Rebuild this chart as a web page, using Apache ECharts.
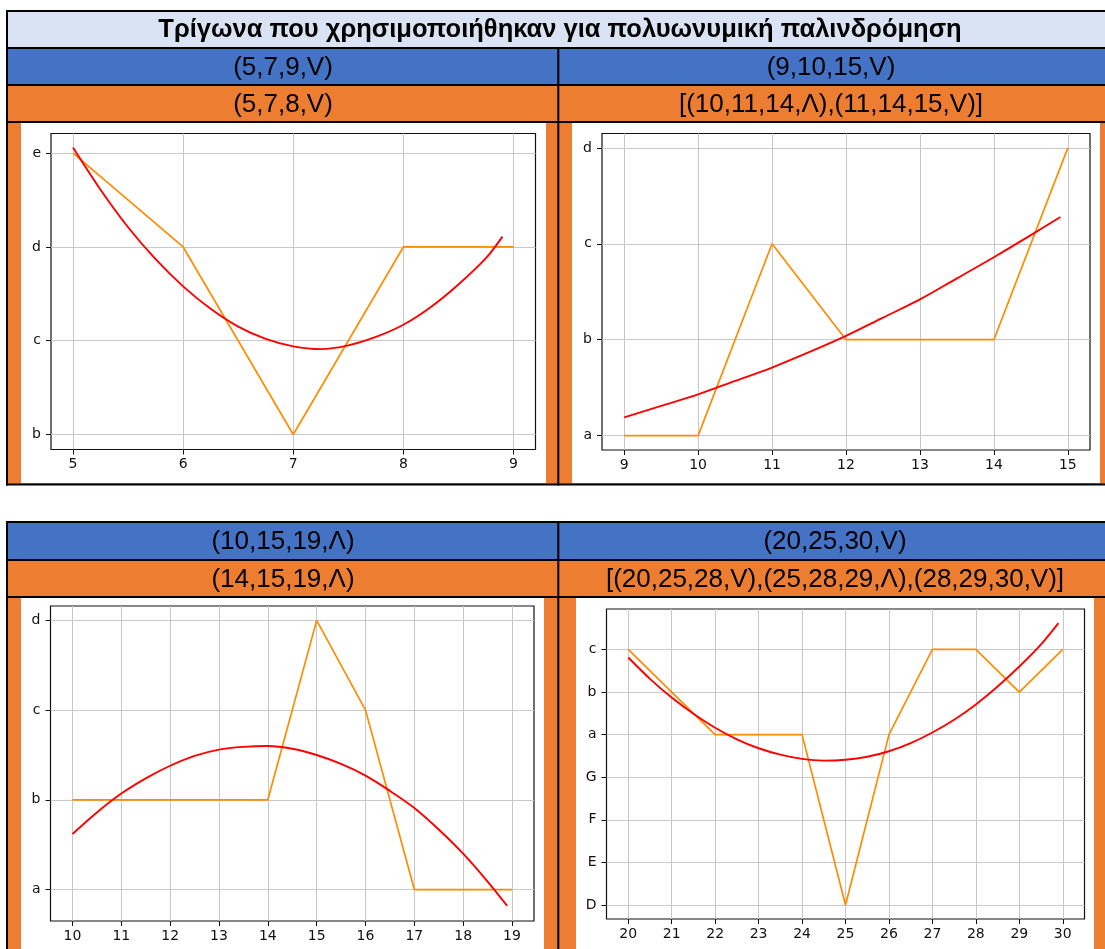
<!DOCTYPE html>
<html>
<head>
<meta charset="utf-8">
<script src="https://cdn.jsdelivr.net/npm/echarts@6/dist/echarts.min.js"></script>
<style>
  html, body { margin: 0; padding: 0; background: #ffffff; }
  #chart { width: 1105px; height: 949px; }
</style>
</head>
<body>
<div id="chart"></div>
<script>
// ---- header texts ----
const headerTitle = 'Τρίγωνα που χρησιμοποιήθηκαν για πολυωνυμική παλινδρόμηση';
const blueLabels = ['(5,7,9,V)', '(9,10,15,V)', '(10,15,19,Λ)', '(20,25,30,V)'];
const orangeLabels = ['(5,7,8,V)', '[(10,11,14,Λ),(11,14,15,V)]', '(14,15,19,Λ)', '[(20,25,28,V),(25,28,29,Λ),(28,29,30,V)]'];

// ---- panel 1 ----
const p1X = [5, 6, 7, 8, 9];
const p1Steps = [3, 2, 0, 2, 2];
const p1FitX = [5, 5.25, 5.5, 5.75, 6, 6.25, 6.5, 6.75, 7, 7.25, 7.5, 7.75, 8, 8.25, 8.5, 8.75, 8.9];
const p1Fit = [3.06, 2.61, 2.21, 1.87, 1.58, 1.34, 1.15, 1.02, 0.94, 0.91, 0.95, 1.04, 1.17, 1.36, 1.60, 1.88, 2.11];
const p1Levels = ['b', 'c', 'd', 'e'];

// ---- panel 2 ----
const p2X = [9, 10, 11, 12, 13, 14, 15];
const p2Steps = [0, 0, 2, 1, 1, 1, 3];
const p2FitX = [9, 9.5, 10, 10.5, 11, 11.5, 12, 12.5, 13, 13.5, 14, 14.5, 14.9];
const p2Fit = [0.19, 0.31, 0.43, 0.57, 0.71, 0.87, 1.04, 1.23, 1.42, 1.64, 1.86, 2.09, 2.28];
const p2Levels = ['a', 'b', 'c', 'd'];

// ---- panel 3 ----
const p3X = [10, 11, 12, 13, 14, 15, 16, 17, 18, 19];
const p3Steps = [1, 1, 1, 1, 1, 3, 2, 0, 0, 0];
const p3FitX = [10, 10.5, 11, 11.5, 12, 12.5, 13, 13.5, 14, 14.5, 15, 15.5, 16, 16.5, 17, 17.5, 18, 18.5, 18.9];
const p3Fit = [0.62, 0.86, 1.07, 1.24, 1.38, 1.49, 1.56, 1.59, 1.60, 1.57, 1.50, 1.40, 1.27, 1.10, 0.91, 0.67, 0.40, 0.09, -0.18];
const p3Levels = ['a', 'b', 'c', 'd'];

// ---- panel 4 ----
const p4X = [20, 21, 22, 23, 24, 25, 26, 27, 28, 29, 30];
const p4Steps = [6, 5, 4, 4, 4, 0, 4, 6, 6, 5, 6];
const p4FitX = [20, 20.5, 21, 21.5, 22, 22.5, 23, 23.5, 24, 24.5, 25, 25.5, 26, 26.5, 27, 27.5, 28, 28.5, 29, 29.5, 29.9];
const p4Fit = [5.81, 5.31, 4.87, 4.49, 4.16, 3.89, 3.68, 3.53, 3.43, 3.39, 3.41, 3.48, 3.61, 3.80, 4.05, 4.35, 4.71, 5.13, 5.60, 6.12, 6.62];
const p4Levels = ['D', 'E', 'F', 'G', 'a', 'b', 'c'];

// ---- colours ----
const LIGHT = '#dae3f3';
const BLUE = '#4472c4';
const ORANGE = '#ed7d31';
const STEP_COLOR = '#ff8c00';
const FIT_COLOR = '#ff0000';

const pairs = (xs, ys) => xs.map((x, i) => [x, ys[i]]);
const range = (a, b) => { const r = []; for (let v = a; v <= b; v++) r.push(v); return r; };

const panels = [
  { x: p1X, steps: p1Steps, fitX: p1FitX, fit: p1Fit, levels: p1Levels,
    xMin: 4.8, xMax: 9.2, yMin: -0.16, yMax: 3.21,
    grid: { left: 51, top: 133.5, width: 484.5, height: 316 } },
  { x: p2X, steps: p2Steps, fitX: p2FitX, fit: p2Fit, levels: p2Levels,
    xMin: 8.7, xMax: 15.3, yMin: -0.15, yMax: 3.15,
    grid: { left: 602, top: 133.5, width: 488, height: 316.5 } },
  { x: p3X, steps: p3Steps, fitX: p3FitX, fit: p3Fit, levels: p3Levels,
    xMin: 9.55, xMax: 19.45, yMin: -0.35, yMax: 3.16,
    grid: { left: 50.5, top: 606, width: 483.5, height: 315 } },
  { x: p4X, steps: p4Steps, fitX: p4FitX, fit: p4Fit, levels: p4Levels,
    xMin: 19.5, xMax: 30.5, yMin: -0.33, yMax: 6.95,
    grid: { left: 606.5, top: 609, width: 478, height: 310 } }
];

const tickFont = { fontFamily: 'DejaVu Sans', fontSize: 14, color: '#111' };

const grids = [], xAxes = [], yAxes = [], series = [];
panels.forEach((p, i) => {
  grids.push(Object.assign({ show: true, borderColor: '#111', borderWidth: 1.2,
    backgroundColor: 'transparent', containLabel: false }, p.grid));
  const xTicks = range(p.x[0], p.x[p.x.length - 1]);
  const yTicks = range(0, p.levels.length - 1);
  xAxes.push({
    type: 'value', gridIndex: i, min: p.xMin, max: p.xMax, position: 'bottom',
    axisLine: { show: false, onZero: false },
    axisTick: { show: true, inside: false, length: 5, customValues: xTicks, lineStyle: { color: '#111', width: 1 } },
    axisLabel: Object.assign({ customValues: xTicks, margin: 8 }, tickFont),
    splitLine: { show: true, lineStyle: { color: '#c8c8c8', width: 1 } }
  });
  yAxes.push({
    type: 'value', gridIndex: i, min: p.yMin, max: p.yMax, position: 'left',
    axisLine: { show: false, onZero: false },
    axisTick: { show: true, inside: false, length: 5, customValues: yTicks, lineStyle: { color: '#111', width: 1 } },
    axisLabel: Object.assign({ customValues: yTicks, margin: 10,
      formatter: v => p.levels[Math.round(v)] }, tickFont),
    splitLine: { show: true, lineStyle: { color: '#c8c8c8', width: 1 } }
  });
  series.push({
    type: 'line', xAxisIndex: i, yAxisIndex: i, data: pairs(p.x, p.steps),
    showSymbol: false, silent: true, lineStyle: { color: STEP_COLOR, width: 1.7 }, z: 3
  });
  series.push({
    type: 'line', xAxisIndex: i, yAxisIndex: i, data: pairs(p.fitX, p.fit),
    smooth: 0.3, showSymbol: false, silent: true, lineStyle: { color: FIT_COLOR, width: 1.9 }, z: 4
  });
});

// ---- table frame ----
const rect = (x, y, w, h, fill) => ({ type: 'rect', z: -2, silent: true,
  shape: { x, y, width: w, height: h }, style: { fill } });
const hline = (x1, x2, y) => ({ type: 'line', z: -1, silent: true,
  shape: { x1, y1: y, x2, y2: y }, style: { stroke: '#000', lineWidth: 2 } });
const vline = (x, y1, y2) => ({ type: 'line', z: -1, silent: true,
  shape: { x1: x, y1, x2: x, y2 }, style: { stroke: '#000', lineWidth: 2 } });
const label = (text, x, y, bold) => ({ type: 'text', z: 0, silent: true,
  style: { text, x, y, align: 'center', verticalAlign: 'middle', fill: '#000',
    font: (bold ? 'bold 25.5px' : '26px') + ' "Liberation Sans", Arial, sans-serif' } });

const graphics = [
  // upper table
  rect(8, 12, 1097, 35, LIGHT),
  rect(8, 49, 1097, 35, BLUE),
  rect(8, 86, 1097, 35, ORANGE),
  rect(8, 123, 1097, 361, ORANGE),
  rect(21, 123, 525, 360, '#fff'),
  rect(572, 123, 528, 360, '#fff'),
  hline(6, 1105, 11), hline(6, 1105, 48), hline(6, 1105, 85), hline(6, 1105, 122), hline(6, 1105, 484.5),
  vline(7, 10, 485.5), vline(558.3, 48, 485.5),
  // lower table
  rect(8, 523, 1097, 36, BLUE),
  rect(8, 561, 1097, 35, ORANGE),
  rect(8, 598, 1097, 351, ORANGE),
  rect(21, 598, 523, 351, '#fff'),
  rect(576, 598, 518, 351, '#fff'),
  hline(6, 1105, 522), hline(6, 1105, 560), hline(6, 1105, 597),
  vline(7, 521, 949), vline(558.3, 521, 949),
  // texts
  label(headerTitle, 560, 30, true),
  label(blueLabels[0], 283, 67.5), label(blueLabels[1], 831, 67.5),
  label(orangeLabels[0], 283, 104.5), label(orangeLabels[1], 831, 104.5),
  label(blueLabels[2], 283, 542), label(blueLabels[3], 835, 542),
  label(orangeLabels[2], 283, 579.5), label(orangeLabels[3], 835, 579.5)
];

const chart = echarts.init(document.getElementById('chart'));
chart.setOption({
  animation: false,
  backgroundColor: '#ffffff',
  grid: grids,
  xAxis: xAxes,
  yAxis: yAxes,
  series: series,
  graphic: { elements: graphics }
});
</script>
</body>
</html>
